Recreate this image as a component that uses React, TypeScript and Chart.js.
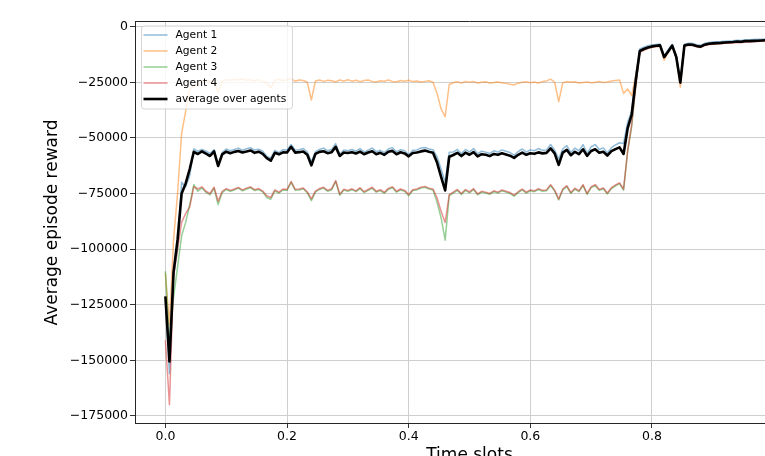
import React, { useEffect, useRef } from "react";
import { Chart, registerables } from "chart.js";

Chart.register(...registerables);

// Average episode reward per agent, sampled at 151 evenly spaced time slots (0 .. 1)
const agent1: number[] = [
  -123000, -156000, -112000, -100000, -70000, -72000, -67000, -55000, -56000, -55200,
  -56000, -57000, -55200, -62500, -56600, -55000, -55800, -55200, -54600, -55600,
  -54900, -54400, -55500, -55100, -56000, -58300, -59000, -55600, -56600, -55300,
  -55500, -53000, -55400, -55300, -54800, -56400, -60800, -56200, -55200, -54600,
  -55800, -55200, -52600, -57400, -55400, -55800, -55200, -56000, -54800, -56400,
  -55500, -54600, -56200, -55600, -56600, -55000, -54400, -56200, -55300, -55800,
  -57600, -55600, -55400, -54600, -54300, -55000, -55300, -58500, -64000, -70000,
  -56500, -56400, -55200, -57000, -55200, -56300, -54800, -57200, -56000, -56400,
  -57000, -55800, -56400, -55400, -56000, -56600, -57800, -56200, -55000, -56400,
  -55400, -55800, -54800, -55600, -55400, -53000, -55500, -59500, -55000, -53500,
  -56600, -54600, -55800, -53000, -57000, -54000, -53000, -55200, -54500, -56800,
  -54400, -53200, -52200, -52500, -43000, -38000, -22000, -10000, -9200, -8600,
  -8200, -8000, -7800, -13000, -10400, -7900, -13000, -24200, -7900, -7400,
  -7500, -8100, -8400, -7500, -7100, -6900, -6800, -6700, -6500, -6400,
  -6300, -6100, -6200, -5900, -5900, -5800, -5700, -5600, -5500, -5400, -5400,
];

const agent2: number[] = [
  -111000, -134000, -96000, -75000, -48000, -38000, -28000, -27000, -26000, -24500,
  -24000, -25000, -24200, -29500, -24500, -23800, -24200, -23600, -24000, -23500,
  -24100, -23900, -24400, -23800, -24600, -25200, -27600, -24100, -23700, -24300,
  -23900, -23400, -24500, -24000, -24200, -25000, -33000, -24400, -24000, -24600,
  -24100, -24300, -24800, -24000, -24400, -23900, -24500, -24100, -24700, -24200,
  -24000, -24600, -24900, -24300, -24500, -24000, -24600, -24800, -24200, -24500,
  -24100, -24700, -24400, -24900, -24600, -24300, -25000, -30000, -37000, -40500,
  -26000, -25200, -24800, -25400, -24600, -25000, -24700, -25300, -25000, -24800,
  -25400, -25100, -24900, -25200, -25500, -25900, -26200, -25400, -25000, -24800,
  -25200, -24900, -25300, -24700, -24400, -23600, -25000, -33700, -25200, -24700,
  -25000, -24800, -25300, -25100, -24900, -25200, -25000, -24700, -25100, -24900,
  -24400, -24200, -24000, -30000, -28000, -31000, -22000, -11000, -10200, -9500,
  -9000, -8700, -8500, -15000, -11500, -8600, -14200, -27200, -8600, -8100,
  -8200, -8800, -9100, -8200, -7800, -7600, -7500, -7400, -7200, -7100,
  -7000, -6800, -6900, -6600, -6600, -6500, -6400, -6300, -6200, -6100, -6100,
];

const agent3: number[] = [
  -110000, -142000, -122000, -108000, -94000, -88000, -80000, -71000, -74000, -72500,
  -74500, -75600, -72600, -80000, -74600, -73200, -74000, -73400, -72600, -73800,
  -73000, -72400, -73700, -73200, -74300, -76800, -77600, -73800, -74900, -73400,
  -73600, -70000, -73500, -73400, -72900, -74700, -78200, -74300, -73200, -72600,
  -74000, -73300, -69600, -75800, -73500, -74000, -73300, -74200, -72800, -74600,
  -73600, -72600, -74400, -73700, -74900, -73100, -72400, -74400, -73400, -74000,
  -76000, -73700, -73400, -72600, -72200, -73000, -73400, -79000, -86000, -96000,
  -76000, -74800, -73600, -75400, -73600, -74700, -73200, -75600, -74400, -74800,
  -75400, -74200, -74800, -73800, -74400, -75000, -76200, -74600, -73400, -74800,
  -73800, -74200, -73200, -74000, -73800, -71400, -73900, -77900, -73400, -71900,
  -75000, -73000, -74200, -71400, -75400, -72400, -71400, -73600, -72900, -75200,
  -72800, -71600, -70600, -73500, -56000, -45000, -26000, -11200, -10200, -9500,
  -9000, -8700, -8500, -13200, -11200, -8600, -13600, -24800, -8600, -8100,
  -8200, -8800, -9100, -8200, -7800, -7600, -7500, -7400, -7200, -7100,
  -7000, -6800, -6900, -6600, -6600, -6500, -6400, -6300, -6200, -6100, -6100,
];

const agent4: number[] = [
  -141000, -170000, -112000, -100000, -88000, -84000, -81000, -72000, -73000, -72000,
  -74000, -75000, -72200, -78500, -74000, -72800, -73600, -73000, -72300, -73400,
  -72600, -72000, -73300, -72800, -73900, -76000, -76800, -73400, -74400, -73000,
  -73200, -69600, -73100, -73000, -72500, -74300, -77400, -73900, -72800, -72200,
  -73600, -72900, -69200, -75300, -73100, -73600, -72900, -73800, -72400, -74200,
  -73200, -72200, -74000, -73300, -74500, -72700, -72000, -74000, -73000, -73600,
  -75500, -73300, -73000, -72200, -71800, -72600, -73000, -77000, -83000, -88000,
  -75500, -74400, -73200, -75000, -73200, -74300, -72800, -75200, -74000, -74400,
  -75000, -73800, -74400, -73400, -74000, -74600, -75800, -74200, -73000, -74400,
  -73400, -73800, -72800, -73600, -73400, -71000, -73500, -77500, -73000, -71500,
  -74600, -72600, -73800, -71000, -75000, -72000, -71000, -73200, -72500, -74800,
  -72400, -71200, -70200, -73000, -56000, -44000, -27000, -11500, -10600, -9800,
  -9300, -9000, -8800, -13600, -11400, -8900, -13800, -24400, -8900, -8400,
  -8500, -9100, -9400, -8500, -8100, -7900, -7800, -7700, -7500, -7400,
  -7300, -7100, -7200, -6900, -6900, -6800, -6700, -6600, -6500, -6400, -6400,
];

// Time slots (normalised 0..1), one per sample
const timeSlots: number[] = agent1.map((_, i) => i / (agent1.length - 1));

// "average over agents" is the mean of the four agents at each time slot
const averageOverAgents: number[] = agent1.map(
  (v, i) => (v + agent2[i] + agent3[i] + agent4[i]) / 4
);

const seriesLabels = ["Agent 1", "Agent 2", "Agent 3", "Agent 4", "average over agents"];
const xTickValues = [0, 0.2, 0.4, 0.6, 0.8, 1.0];
const yTickValues = [0, -25000, -50000, -75000, -100000, -125000, -150000, -175000];

const FONT = '"DejaVu Sans", "Liberation Sans", sans-serif';

const legendPlugin = {
  id: "mplLegend",
  afterDatasetsDraw(chart: any) {
    const { ctx, chartArea } = chart;
    const x0 = chartArea.left + 6.5;
    const y0 = chartArea.top + 4;
    const w = 151;
    const h = 83;
    const r = 3;
    ctx.save();
    ctx.beginPath();
    ctx.moveTo(x0 + r, y0);
    ctx.lineTo(x0 + w - r, y0);
    ctx.quadraticCurveTo(x0 + w, y0, x0 + w, y0 + r);
    ctx.lineTo(x0 + w, y0 + h - r);
    ctx.quadraticCurveTo(x0 + w, y0 + h, x0 + w - r, y0 + h);
    ctx.lineTo(x0 + r, y0 + h);
    ctx.quadraticCurveTo(x0, y0 + h, x0, y0 + h - r);
    ctx.lineTo(x0, y0 + r);
    ctx.quadraticCurveTo(x0, y0, x0 + r, y0);
    ctx.closePath();
    ctx.fillStyle = "rgba(255,255,255,0.8)";
    ctx.fill();
    ctx.strokeStyle = "rgba(204,204,204,0.8)";
    ctx.lineWidth = 1;
    ctx.stroke();

    chart.data.datasets.forEach((ds: any, i: number) => {
      const y = y0 + 9 + i * 16;
      ctx.beginPath();
      ctx.moveTo(x0 + 2, y);
      ctx.lineTo(x0 + 26, y);
      ctx.strokeStyle = ds.borderColor;
      ctx.lineWidth = ds.borderWidth;
      ctx.stroke();
      ctx.fillStyle = "#000";
      ctx.font = `10.7px ${FONT}`;
      ctx.textBaseline = "middle";
      ctx.textAlign = "left";
      ctx.fillText(ds.label, x0 + 34, y + 0.5);
    });
    ctx.restore();
  },
};

const topSpinePlugin = {
  id: "topSpine",
  afterDraw(chart: any) {
    const { ctx, chartArea } = chart;
    ctx.save();
    ctx.beginPath();
    ctx.moveTo(chartArea.left, chartArea.top - 0.5);
    ctx.lineTo(chartArea.right, chartArea.top - 0.5);
    ctx.strokeStyle = "#262626";
    ctx.lineWidth = 1;
    ctx.stroke();
    ctx.restore();
  },
};

function toPoints(values: number[]) {
  return values.map((y, i) => ({ x: timeSlots[i], y }));
}

export default function App() {
  const canvasRef = useRef<HTMLCanvasElement | null>(null);

  useEffect(() => {
    if (!canvasRef.current) return;
    const colors = [
      "rgba(31,119,180,0.5)",
      "rgba(255,127,14,0.5)",
      "rgba(44,160,44,0.5)",
      "rgba(214,39,40,0.5)",
      "#000000",
    ];
    const values = [agent1, agent2, agent3, agent4, averageOverAgents];
    const orders = [4, 3, 2, 1, 0];
    const chart = new Chart(canvasRef.current, {
      type: "line",
      data: {
        datasets: values.map((vals, i) => ({
          label: seriesLabels[i],
          data: toPoints(vals),
          borderColor: colors[i],
          backgroundColor: colors[i],
          borderWidth: i === 4 ? 2.6 : 1.5,
          pointRadius: 0,
          tension: 0,
          fill: false,
          order: orders[i],
          borderJoinStyle: "round" as const,
        })),
      },
      options: {
        responsive: false,
        animation: false,
        devicePixelRatio: 1,
        layout: { padding: { top: 22, right: 6, left: 0, bottom: 0 } },
        plugins: {
          legend: { display: false },
          tooltip: { enabled: false },
        },
        scales: {
          x: {
            type: "linear",
            min: -0.05,
            max: 1.05,
            afterFit: (s: any) => {
              s.height = 57;
            },
            afterBuildTicks: (s: any) => {
              s.ticks = xTickValues.map((v) => ({ value: v }));
            },
            ticks: {
              callback: (v: any) => Number(v).toFixed(1),
              font: { family: FONT, size: 12.5 },
              color: "#000",
              padding: 1.5,
              maxRotation: 0,
              autoSkip: false,
            },
            grid: {
              color: "#cfcfcf",
              lineWidth: 1,
              tickColor: "#333",
              tickLength: 5,
              drawTicks: true,
            },
            border: { color: "#262626", width: 1 },
            title: {
              display: true,
              text: "Time slots",
              font: { family: FONT, size: 17 },
              color: "#000",
              padding: { top: 0, bottom: 13.8 },
            },
          },
          y: {
            type: "linear",
            min: -178200,
            max: 2100,
            afterFit: (s: any) => {
              s.width = 135;
            },
            afterBuildTicks: (s: any) => {
              s.ticks = yTickValues.map((v) => ({ value: v }));
            },
            ticks: {
              callback: (v: any) => {
                const n = Number(v);
                return n < 0 ? "\u2212" + String(Math.abs(n)) : String(n);
              },
              font: { family: FONT, size: 12.5 },
              color: "#000",
              padding: 2,
              autoSkip: false,
            },
            grid: {
              color: "#cfcfcf",
              lineWidth: 1,
              tickColor: "#333",
              tickLength: 5,
              drawTicks: true,
            },
            border: { color: "#262626", width: 1 },
            title: {
              display: true,
              text: "Average episode reward",
              font: { family: FONT, size: 17 },
              color: "#000",
              padding: { top: 42.8, bottom: 0 },
            },
          },
        },
      },
      plugins: [legendPlugin, topSpinePlugin],
    } as any);
    return () => {
      chart.destroy();
    };
  }, []);

  return (
    <div
      style={{
        position: "fixed",
        left: 0,
        top: 0,
        width: 765,
        height: 456,
        overflow: "hidden",
        background: "#ffffff",
      }}
    >
      <canvas
        ref={canvasRef}
        width={810}
        height={480}
        style={{ display: "block", width: 810, height: 480 }}
      />
    </div>
  );
}
